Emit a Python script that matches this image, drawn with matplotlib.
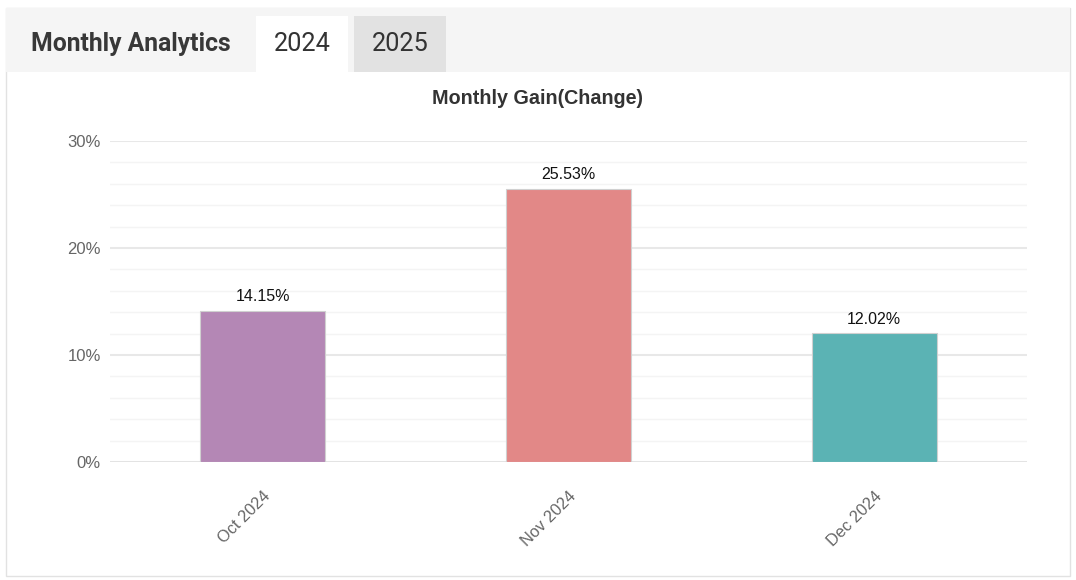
import matplotlib
matplotlib.use("Agg")
import matplotlib.pyplot as plt
from matplotlib.patches import Rectangle
from matplotlib.ticker import MultipleLocator, FuncFormatter

months = ["Oct 2024", "Nov 2024", "Dec 2024"]
gains = [14.15, 25.53, 12.02]
bar_colors = ["#b487b5", "#e28887", "#5bb3b4"]
tabs = ["2024", "2025"]

W, H = 1076, 580
fig = plt.figure(figsize=(W / 100, H / 100), dpi=100)
fig.patch.set_facecolor("white")

def fx(x):
    return x / W

def fy(y):
    return 1 - y / H

# outer card border
fig.patches.append(Rectangle((fx(6), fy(576)), fx(1070 - 6), (576 - 8) / H,
                             transform=fig.transFigure, facecolor="white",
                             edgecolor="#e2e2e2", lw=1, zorder=-3))
# header band
fig.patches.append(Rectangle((fx(6), fy(72)), fx(1070 - 6), (72 - 8) / H,
                             transform=fig.transFigure, facecolor="#f5f5f5",
                             edgecolor="none", zorder=-2))
# tabs
fig.patches.append(Rectangle((fx(256), fy(72)), fx(92), 56 / H,
                             transform=fig.transFigure, facecolor="white",
                             edgecolor="none", zorder=-1))
fig.patches.append(Rectangle((fx(354), fy(72)), fx(92), 56 / H,
                             transform=fig.transFigure, facecolor="#e2e2e2",
                             edgecolor="none", zorder=-1))
fig.text(fx(31), fy(44), "Monthly Analytics", fontsize=17.8, fontweight="bold",
         color="#383838", family="Roboto", va="center", ha="left", zorder=3)
fig.text(fx(302), fy(44), tabs[0], fontsize=18.2, color="#333333",
         family="Roboto", va="center", ha="center", zorder=3)
fig.text(fx(400), fy(44), tabs[1], fontsize=18.2, color="#333333",
         family="Roboto", va="center", ha="center", zorder=3)

fig.text(fx(538), fy(99), "Monthly Gain(Change)", fontsize=14.2, fontweight="bold",
         color="#333333", family="Liberation Sans", va="center", ha="center")

ax = fig.add_axes([fx(110), fy(462), fx(1027 - 110), (462 - 141) / H])
ax.set_zorder(5)
ax.set_facecolor("none")
x = list(range(len(months)))
bars = ax.bar(x, gains, width=0.41, color=bar_colors, edgecolor="#d0d0d0",
              linewidth=0.8, zorder=3)
for xi, v in zip(x, gains):
    ax.annotate(f"{v:.2f}%", (xi, v), xytext=(0, 10), textcoords="offset points",
                ha="center", va="center", fontsize=11.5, color="#111111",
                family="Liberation Sans", annotation_clip=False)

ax.set_xlim(-0.5, len(months) - 0.5)
ax.set_ylim(0, 30)
ax.yaxis.set_major_locator(MultipleLocator(10))
ax.yaxis.set_minor_locator(MultipleLocator(2))
ax.yaxis.set_major_formatter(FuncFormatter(lambda v, p: f"{v:.0f}%"))
ax.grid(which="major", axis="y", color="#e8e8e8", lw=1.5, zorder=0)
ax.grid(which="minor", axis="y", color="#f4f4f4", lw=1, zorder=0)
ax.grid(axis="x", visible=False)
for s in ax.spines.values():
    s.set_visible(False)
ax.axhline(0, color="#e3e3e3", lw=2, zorder=2)
ax.tick_params(axis="both", which="both", length=0)
ax.tick_params(axis="y", pad=6.5, labelsize=12, labelcolor="#666666")
ax.set_xticks(x)
ax.set_xticklabels(months, rotation=45, ha="right", rotation_mode="anchor",
                   fontsize=11.8, color="#666666", family="Liberation Sans")
ax.tick_params(axis="x", pad=19)
for lab in ax.get_yticklabels():
    lab.set_family("Liberation Sans")

fig.savefig("out.png", dpi=100)
